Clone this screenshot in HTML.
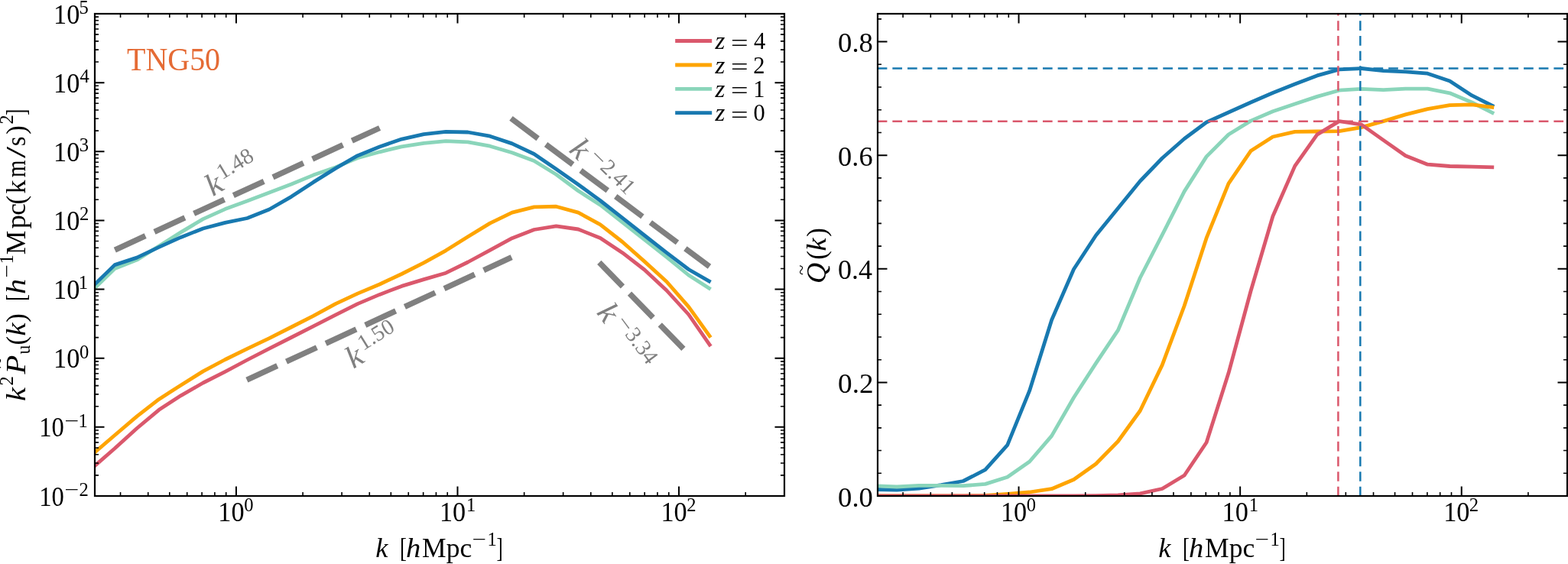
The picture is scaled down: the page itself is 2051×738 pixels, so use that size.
<!DOCTYPE html>
<html><head><meta charset="utf-8"><title>TNG50 power spectrum</title>
<style>html,body{margin:0;padding:0;background:#fff;overflow:hidden}svg{display:block}.t{font-family:"Liberation Serif","DejaVu Serif",serif;fill:#000}.i{font-style:italic}</style></head><body>
<svg width="2051" height="738" viewBox="0 0 2051 738">
<rect width="2051" height="738" fill="#fff"/>
<defs><clipPath id="cl"><rect x="124.0" y="18.0" width="902.0" height="631.0"/></clipPath><clipPath id="cr"><rect x="1148.0" y="18.0" width="902.0" height="631.0"/></clipPath></defs>
<g clip-path="url(#cl)" fill="none" stroke-linejoin="round">
<path d="M150.3,327.1 L496.6,167.5" stroke="#808080" stroke-width="7.4" stroke-dasharray="43.9 13.0"/>
<path d="M668.5,154.9 L928.0,348.8" stroke="#808080" stroke-width="7.4" stroke-dasharray="43.9 13.0"/>
<path d="M322.9,497.1 L669.2,336.7" stroke="#808080" stroke-width="7.4" stroke-dasharray="43.9 13.0"/>
<path d="M783.8,343.4 L894.4,456.8" stroke="#808080" stroke-width="7.4" stroke-dasharray="43.9 13.0"/>
<path d="M121.2,611.9 L150.1,586.8 L179.0,560.5 L207.9,536.3 L236.7,517.6 L265.6,501.0 L294.5,486.3 L323.3,471.0 L352.2,456.1 L381.1,441.5 L409.9,426.8 L438.8,412.2 L467.7,397.6 L496.6,385.4 L525.4,374.4 L554.3,365.6 L583.2,357.2 L612.0,343.0 L640.9,327.4 L669.8,311.7 L698.6,300.5 L727.5,295.8 L756.4,300.0 L785.2,311.4 L814.1,330.7 L843.0,353.0 L871.9,380.0 L900.7,411.5 L929.6,453.2" stroke="#da586c" stroke-width="4.8"/>
<path d="M121.2,594.2 L150.1,569.5 L179.0,544.9 L207.9,522.4 L236.7,503.9 L265.6,485.9 L294.5,470.5 L323.3,456.3 L352.2,442.7 L381.1,428.0 L409.9,413.4 L438.8,397.6 L467.7,384.1 L496.6,372.0 L525.4,358.5 L554.3,343.9 L583.2,327.8 L612.0,309.8 L640.9,292.1 L669.8,278.1 L698.6,270.9 L727.5,270.2 L756.4,278.1 L785.2,293.8 L814.1,316.5 L843.0,342.1 L871.9,368.5 L900.7,401.3 L929.6,441.6" stroke="#fea400" stroke-width="4.8"/>
<path d="M121.2,379.7 L150.1,351.6 L179.0,340.1 L207.9,322.0 L236.7,303.9 L265.6,286.6 L294.5,273.6 L323.3,263.1 L352.2,251.9 L381.1,241.0 L409.9,229.1 L438.8,218.9 L467.7,206.8 L496.6,198.8 L525.4,191.8 L554.3,187.3 L583.2,184.7 L612.0,185.8 L640.9,191.2 L669.8,199.8 L698.6,210.5 L727.5,228.3 L756.4,249.7 L785.2,268.2 L814.1,290.9 L843.0,313.7 L871.9,336.4 L900.7,360.0 L929.6,378.5" stroke="#8ad5ba" stroke-width="4.8"/>
<path d="M121.2,374.7 L150.1,346.6 L179.0,337.1 L207.9,323.4 L236.7,310.4 L265.6,299.0 L294.5,291.4 L323.3,285.5 L352.2,274.0 L381.1,257.3 L409.9,238.4 L438.8,220.4 L467.7,203.7 L496.6,192.0 L525.4,182.1 L554.3,175.6 L583.2,172.3 L612.0,173.0 L640.9,178.2 L669.8,187.9 L698.6,201.5 L727.5,221.2 L756.4,241.5 L785.2,262.5 L814.1,285.2 L843.0,308.0 L871.9,330.7 L900.7,352.5 L929.6,369.1" stroke="#1879b0" stroke-width="4.8"/>
</g>
<g clip-path="url(#cr)" fill="none" stroke-linejoin="round">
<path d="M1144.2,640.4 L1173.1,641.1 L1202.0,639.2 L1231.0,634.7 L1259.9,629.5 L1288.8,614.7 L1317.7,582.3 L1346.7,511.2 L1375.6,418.7 L1404.5,352.2 L1433.5,308.0 L1462.4,272.5 L1491.3,237.0 L1520.2,207.0 L1549.2,181.5 L1578.1,160.0 L1607.0,147.0 L1636.0,134.0 L1664.9,121.5 L1693.8,110.0 L1722.8,98.9 L1751.7,90.9 L1780.6,89.5 L1809.5,92.6 L1838.5,93.8 L1867.4,96.2 L1896.3,106.0 L1925.3,124.9 L1954.2,139.5" stroke="#1879b0" stroke-width="4.8"/>
<path d="M1144.2,635.8 L1173.1,637.0 L1202.0,635.3 L1231.0,635.3 L1259.9,635.7 L1288.8,633.4 L1317.7,624.2 L1346.7,604.0 L1375.6,570.4 L1404.5,520.2 L1433.5,475.4 L1462.4,432.2 L1491.3,363.5 L1520.2,307.3 L1549.2,250.4 L1578.1,204.9 L1607.0,176.0 L1636.0,158.1 L1664.9,145.8 L1693.8,135.9 L1722.8,126.4 L1751.7,118.2 L1780.6,116.3 L1809.5,117.6 L1838.5,116.1 L1867.4,116.1 L1896.3,121.8 L1925.3,134.0 L1954.2,148.7" stroke="#8ad5ba" stroke-width="4.8"/>
<path d="M1144.2,649.0 L1173.1,649.0 L1202.0,649.0 L1231.0,649.0 L1259.9,648.9 L1288.8,648.5 L1317.7,646.3 L1346.7,644.0 L1375.6,639.7 L1404.5,627.5 L1433.5,607.0 L1462.4,577.5 L1491.3,537.5 L1520.2,477.6 L1549.2,400.0 L1578.1,311.4 L1607.0,240.2 L1636.0,197.6 L1664.9,179.0 L1693.8,172.4 L1722.8,172.0 L1751.7,171.7 L1780.6,166.6 L1809.5,158.6 L1838.5,149.9 L1867.4,142.6 L1896.3,137.7 L1925.3,136.8 L1954.2,140.7" stroke="#fea400" stroke-width="4.8"/>
<path d="M1144.2,649.0 L1173.1,649.0 L1202.0,649.0 L1231.0,649.0 L1259.9,649.0 L1288.8,649.0 L1317.7,649.0 L1346.7,649.0 L1375.6,649.0 L1404.5,648.8 L1433.5,648.6 L1462.4,647.9 L1491.3,645.8 L1520.2,639.5 L1549.2,622.0 L1578.1,579.0 L1607.0,488.1 L1636.0,381.0 L1664.9,283.0 L1693.8,217.1 L1722.8,176.1 L1751.7,158.6 L1780.6,162.9 L1809.5,183.4 L1838.5,203.7 L1867.4,215.2 L1896.3,217.5 L1925.3,218.2 L1954.2,218.9" stroke="#da586c" stroke-width="4.8"/>
<path d="M1147.7,158.7 H2050.0" stroke="#da586c" stroke-width="2.5" stroke-dasharray="12.7 6.96"/>
<path d="M1147.7,89.6 H2050.0" stroke="#1879b0" stroke-width="2.5" stroke-dasharray="12.7 6.96"/>
<path d="M1750.4,649.5 V18.0" stroke="#da586c" stroke-width="2.5" stroke-dasharray="12.7 6.96"/>
<path d="M1779.3,649.5 V18.0" stroke="#1879b0" stroke-width="2.5" stroke-dasharray="12.7 6.96"/>
</g>
<g stroke="#000" fill="none">
<path d="M157.55,649.00 V644.00 M157.55,18.00 V23.00" stroke-width="1.6"/><path d="M193.73,649.00 V644.00 M193.73,18.00 V23.00" stroke-width="1.6"/><path d="M221.79,649.00 V644.00 M221.79,18.00 V23.00" stroke-width="1.6"/><path d="M244.71,649.00 V644.00 M244.71,18.00 V23.00" stroke-width="1.6"/><path d="M264.10,649.00 V644.00 M264.10,18.00 V23.00" stroke-width="1.6"/><path d="M280.89,649.00 V644.00 M280.89,18.00 V23.00" stroke-width="1.6"/><path d="M295.70,649.00 V644.00 M295.70,18.00 V23.00" stroke-width="1.6"/><path d="M308.95,649.00 V636.50 M308.95,18.00 V30.50" stroke-width="2.0"/><path d="M396.11,649.00 V644.00 M396.11,18.00 V23.00" stroke-width="1.6"/><path d="M447.10,649.00 V644.00 M447.10,18.00 V23.00" stroke-width="1.6"/><path d="M483.28,649.00 V644.00 M483.28,18.00 V23.00" stroke-width="1.6"/><path d="M511.34,649.00 V644.00 M511.34,18.00 V23.00" stroke-width="1.6"/><path d="M534.26,649.00 V644.00 M534.26,18.00 V23.00" stroke-width="1.6"/><path d="M553.65,649.00 V644.00 M553.65,18.00 V23.00" stroke-width="1.6"/><path d="M570.44,649.00 V644.00 M570.44,18.00 V23.00" stroke-width="1.6"/><path d="M585.25,649.00 V644.00 M585.25,18.00 V23.00" stroke-width="1.6"/><path d="M598.50,649.00 V636.50 M598.50,18.00 V30.50" stroke-width="2.0"/><path d="M685.66,649.00 V644.00 M685.66,18.00 V23.00" stroke-width="1.6"/><path d="M736.65,649.00 V644.00 M736.65,18.00 V23.00" stroke-width="1.6"/><path d="M772.83,649.00 V644.00 M772.83,18.00 V23.00" stroke-width="1.6"/><path d="M800.89,649.00 V644.00 M800.89,18.00 V23.00" stroke-width="1.6"/><path d="M823.81,649.00 V644.00 M823.81,18.00 V23.00" stroke-width="1.6"/><path d="M843.20,649.00 V644.00 M843.20,18.00 V23.00" stroke-width="1.6"/><path d="M859.99,649.00 V644.00 M859.99,18.00 V23.00" stroke-width="1.6"/><path d="M874.80,649.00 V644.00 M874.80,18.00 V23.00" stroke-width="1.6"/><path d="M888.05,649.00 V636.50 M888.05,18.00 V30.50" stroke-width="2.0"/><path d="M975.21,649.00 V644.00 M975.21,18.00 V23.00" stroke-width="1.6"/>
<path d="M1181.12,649.00 V644.00 M1181.12,18.00 V23.00" stroke-width="1.6"/><path d="M1217.31,649.00 V644.00 M1217.31,18.00 V23.00" stroke-width="1.6"/><path d="M1245.37,649.00 V644.00 M1245.37,18.00 V23.00" stroke-width="1.6"/><path d="M1268.30,649.00 V644.00 M1268.30,18.00 V23.00" stroke-width="1.6"/><path d="M1287.69,649.00 V644.00 M1287.69,18.00 V23.00" stroke-width="1.6"/><path d="M1304.48,649.00 V644.00 M1304.48,18.00 V23.00" stroke-width="1.6"/><path d="M1319.30,649.00 V644.00 M1319.30,18.00 V23.00" stroke-width="1.6"/><path d="M1332.55,649.00 V636.50 M1332.55,18.00 V30.50" stroke-width="2.0"/><path d="M1419.73,649.00 V644.00 M1419.73,18.00 V23.00" stroke-width="1.6"/><path d="M1470.72,649.00 V644.00 M1470.72,18.00 V23.00" stroke-width="1.6"/><path d="M1506.91,649.00 V644.00 M1506.91,18.00 V23.00" stroke-width="1.6"/><path d="M1534.97,649.00 V644.00 M1534.97,18.00 V23.00" stroke-width="1.6"/><path d="M1557.90,649.00 V644.00 M1557.90,18.00 V23.00" stroke-width="1.6"/><path d="M1577.29,649.00 V644.00 M1577.29,18.00 V23.00" stroke-width="1.6"/><path d="M1594.08,649.00 V644.00 M1594.08,18.00 V23.00" stroke-width="1.6"/><path d="M1608.90,649.00 V644.00 M1608.90,18.00 V23.00" stroke-width="1.6"/><path d="M1622.15,649.00 V636.50 M1622.15,18.00 V30.50" stroke-width="2.0"/><path d="M1709.33,649.00 V644.00 M1709.33,18.00 V23.00" stroke-width="1.6"/><path d="M1760.32,649.00 V644.00 M1760.32,18.00 V23.00" stroke-width="1.6"/><path d="M1796.51,649.00 V644.00 M1796.51,18.00 V23.00" stroke-width="1.6"/><path d="M1824.57,649.00 V644.00 M1824.57,18.00 V23.00" stroke-width="1.6"/><path d="M1847.50,649.00 V644.00 M1847.50,18.00 V23.00" stroke-width="1.6"/><path d="M1866.89,649.00 V644.00 M1866.89,18.00 V23.00" stroke-width="1.6"/><path d="M1883.68,649.00 V644.00 M1883.68,18.00 V23.00" stroke-width="1.6"/><path d="M1898.50,649.00 V644.00 M1898.50,18.00 V23.00" stroke-width="1.6"/><path d="M1911.75,649.00 V636.50 M1911.75,18.00 V30.50" stroke-width="2.0"/><path d="M1998.93,649.00 V644.00 M1998.93,18.00 V23.00" stroke-width="1.6"/>
<path d="M124.00,649.00 H136.50 M1026.00,649.00 H1013.50" stroke-width="2.0"/>
<path d="M124.00,621.86 H129.00 M1026.00,621.86 H1021.00" stroke-width="1.6"/>
<path d="M124.00,605.99 H129.00 M1026.00,605.99 H1021.00" stroke-width="1.6"/>
<path d="M124.00,594.73 H129.00 M1026.00,594.73 H1021.00" stroke-width="1.6"/>
<path d="M124.00,585.99 H129.00 M1026.00,585.99 H1021.00" stroke-width="1.6"/>
<path d="M124.00,578.86 H129.00 M1026.00,578.86 H1021.00" stroke-width="1.6"/>
<path d="M124.00,572.82 H129.00 M1026.00,572.82 H1021.00" stroke-width="1.6"/>
<path d="M124.00,567.59 H129.00 M1026.00,567.59 H1021.00" stroke-width="1.6"/>
<path d="M124.00,562.98 H129.00 M1026.00,562.98 H1021.00" stroke-width="1.6"/>
<path d="M124.00,558.86 H136.50 M1026.00,558.86 H1013.50" stroke-width="2.0"/>
<path d="M124.00,531.72 H129.00 M1026.00,531.72 H1021.00" stroke-width="1.6"/>
<path d="M124.00,515.85 H129.00 M1026.00,515.85 H1021.00" stroke-width="1.6"/>
<path d="M124.00,504.59 H129.00 M1026.00,504.59 H1021.00" stroke-width="1.6"/>
<path d="M124.00,495.85 H129.00 M1026.00,495.85 H1021.00" stroke-width="1.6"/>
<path d="M124.00,488.71 H129.00 M1026.00,488.71 H1021.00" stroke-width="1.6"/>
<path d="M124.00,482.68 H129.00 M1026.00,482.68 H1021.00" stroke-width="1.6"/>
<path d="M124.00,477.45 H129.00 M1026.00,477.45 H1021.00" stroke-width="1.6"/>
<path d="M124.00,472.84 H129.00 M1026.00,472.84 H1021.00" stroke-width="1.6"/>
<path d="M124.00,468.71 H136.50 M1026.00,468.71 H1013.50" stroke-width="2.0"/>
<path d="M124.00,441.58 H129.00 M1026.00,441.58 H1021.00" stroke-width="1.6"/>
<path d="M124.00,425.71 H129.00 M1026.00,425.71 H1021.00" stroke-width="1.6"/>
<path d="M124.00,414.44 H129.00 M1026.00,414.44 H1021.00" stroke-width="1.6"/>
<path d="M124.00,405.71 H129.00 M1026.00,405.71 H1021.00" stroke-width="1.6"/>
<path d="M124.00,398.57 H129.00 M1026.00,398.57 H1021.00" stroke-width="1.6"/>
<path d="M124.00,392.53 H129.00 M1026.00,392.53 H1021.00" stroke-width="1.6"/>
<path d="M124.00,387.31 H129.00 M1026.00,387.31 H1021.00" stroke-width="1.6"/>
<path d="M124.00,382.70 H129.00 M1026.00,382.70 H1021.00" stroke-width="1.6"/>
<path d="M124.00,378.57 H136.50 M1026.00,378.57 H1013.50" stroke-width="2.0"/>
<path d="M124.00,351.44 H129.00 M1026.00,351.44 H1021.00" stroke-width="1.6"/>
<path d="M124.00,335.56 H129.00 M1026.00,335.56 H1021.00" stroke-width="1.6"/>
<path d="M124.00,324.30 H129.00 M1026.00,324.30 H1021.00" stroke-width="1.6"/>
<path d="M124.00,315.56 H129.00 M1026.00,315.56 H1021.00" stroke-width="1.6"/>
<path d="M124.00,308.43 H129.00 M1026.00,308.43 H1021.00" stroke-width="1.6"/>
<path d="M124.00,302.39 H129.00 M1026.00,302.39 H1021.00" stroke-width="1.6"/>
<path d="M124.00,297.16 H129.00 M1026.00,297.16 H1021.00" stroke-width="1.6"/>
<path d="M124.00,292.55 H129.00 M1026.00,292.55 H1021.00" stroke-width="1.6"/>
<path d="M124.00,288.43 H136.50 M1026.00,288.43 H1013.50" stroke-width="2.0"/>
<path d="M124.00,261.29 H129.00 M1026.00,261.29 H1021.00" stroke-width="1.6"/>
<path d="M124.00,245.42 H129.00 M1026.00,245.42 H1021.00" stroke-width="1.6"/>
<path d="M124.00,234.16 H129.00 M1026.00,234.16 H1021.00" stroke-width="1.6"/>
<path d="M124.00,225.42 H129.00 M1026.00,225.42 H1021.00" stroke-width="1.6"/>
<path d="M124.00,218.28 H129.00 M1026.00,218.28 H1021.00" stroke-width="1.6"/>
<path d="M124.00,212.25 H129.00 M1026.00,212.25 H1021.00" stroke-width="1.6"/>
<path d="M124.00,207.02 H129.00 M1026.00,207.02 H1021.00" stroke-width="1.6"/>
<path d="M124.00,202.41 H129.00 M1026.00,202.41 H1021.00" stroke-width="1.6"/>
<path d="M124.00,198.29 H136.50 M1026.00,198.29 H1013.50" stroke-width="2.0"/>
<path d="M124.00,171.15 H129.00 M1026.00,171.15 H1021.00" stroke-width="1.6"/>
<path d="M124.00,155.28 H129.00 M1026.00,155.28 H1021.00" stroke-width="1.6"/>
<path d="M124.00,144.01 H129.00 M1026.00,144.01 H1021.00" stroke-width="1.6"/>
<path d="M124.00,135.28 H129.00 M1026.00,135.28 H1021.00" stroke-width="1.6"/>
<path d="M124.00,128.14 H129.00 M1026.00,128.14 H1021.00" stroke-width="1.6"/>
<path d="M124.00,122.11 H129.00 M1026.00,122.11 H1021.00" stroke-width="1.6"/>
<path d="M124.00,116.88 H129.00 M1026.00,116.88 H1021.00" stroke-width="1.6"/>
<path d="M124.00,112.27 H129.00 M1026.00,112.27 H1021.00" stroke-width="1.6"/>
<path d="M124.00,108.14 H136.50 M1026.00,108.14 H1013.50" stroke-width="2.0"/>
<path d="M124.00,81.01 H129.00 M1026.00,81.01 H1021.00" stroke-width="1.6"/>
<path d="M124.00,65.13 H129.00 M1026.00,65.13 H1021.00" stroke-width="1.6"/>
<path d="M124.00,53.87 H129.00 M1026.00,53.87 H1021.00" stroke-width="1.6"/>
<path d="M124.00,45.14 H129.00 M1026.00,45.14 H1021.00" stroke-width="1.6"/>
<path d="M124.00,38.00 H129.00 M1026.00,38.00 H1021.00" stroke-width="1.6"/>
<path d="M124.00,31.96 H129.00 M1026.00,31.96 H1021.00" stroke-width="1.6"/>
<path d="M124.00,26.74 H129.00 M1026.00,26.74 H1021.00" stroke-width="1.6"/>
<path d="M124.00,22.12 H129.00 M1026.00,22.12 H1021.00" stroke-width="1.6"/>
<path d="M124.00,18.00 H136.50 M1026.00,18.00 H1013.50" stroke-width="2.0"/>
<path d="M1148.00,649.00 H1160.50 M2050.00,649.00 H2037.50" stroke-width="2.0"/>
<path d="M1148.00,619.28 H1153.00 M2050.00,619.28 H2045.00" stroke-width="1.6"/>
<path d="M1148.00,589.56 H1153.00 M2050.00,589.56 H2045.00" stroke-width="1.6"/>
<path d="M1148.00,559.84 H1153.00 M2050.00,559.84 H2045.00" stroke-width="1.6"/>
<path d="M1148.00,530.12 H1153.00 M2050.00,530.12 H2045.00" stroke-width="1.6"/>
<path d="M1148.00,500.40 H1160.50 M2050.00,500.40 H2037.50" stroke-width="2.0"/>
<path d="M1148.00,470.68 H1153.00 M2050.00,470.68 H2045.00" stroke-width="1.6"/>
<path d="M1148.00,440.96 H1153.00 M2050.00,440.96 H2045.00" stroke-width="1.6"/>
<path d="M1148.00,411.24 H1153.00 M2050.00,411.24 H2045.00" stroke-width="1.6"/>
<path d="M1148.00,381.52 H1153.00 M2050.00,381.52 H2045.00" stroke-width="1.6"/>
<path d="M1148.00,351.80 H1160.50 M2050.00,351.80 H2037.50" stroke-width="2.0"/>
<path d="M1148.00,322.08 H1153.00 M2050.00,322.08 H2045.00" stroke-width="1.6"/>
<path d="M1148.00,292.36 H1153.00 M2050.00,292.36 H2045.00" stroke-width="1.6"/>
<path d="M1148.00,262.64 H1153.00 M2050.00,262.64 H2045.00" stroke-width="1.6"/>
<path d="M1148.00,232.92 H1153.00 M2050.00,232.92 H2045.00" stroke-width="1.6"/>
<path d="M1148.00,203.20 H1160.50 M2050.00,203.20 H2037.50" stroke-width="2.0"/>
<path d="M1148.00,173.48 H1153.00 M2050.00,173.48 H2045.00" stroke-width="1.6"/>
<path d="M1148.00,143.76 H1153.00 M2050.00,143.76 H2045.00" stroke-width="1.6"/>
<path d="M1148.00,114.04 H1153.00 M2050.00,114.04 H2045.00" stroke-width="1.6"/>
<path d="M1148.00,84.32 H1153.00 M2050.00,84.32 H2045.00" stroke-width="1.6"/>
<path d="M1148.00,54.60 H1160.50 M2050.00,54.60 H2037.50" stroke-width="2.0"/>
<path d="M1148.00,24.88 H1153.00 M2050.00,24.88 H2045.00" stroke-width="1.6"/>
<rect x="124.0" y="18.0" width="902.0" height="631.0" stroke-width="2.2" stroke-linejoin="miter"/>
<rect x="1148.0" y="18.0" width="902.0" height="631.0" stroke-width="2.2" stroke-linejoin="miter"/>
</g>
<g font-family="Liberation Serif, DejaVu Serif, serif" fill="#000">
<text x="51.13" y="661.60" font-size="34.80" textLength="32.61" lengthAdjust="spacingAndGlyphs">10</text>
<text x="84.43" y="648.80" font-size="24.60" textLength="18.91" lengthAdjust="spacingAndGlyphs">−</text>
<text x="103.52" y="648.80" font-size="24.60">2</text>
<text x="51.13" y="571.46" font-size="34.80" textLength="32.61" lengthAdjust="spacingAndGlyphs">10</text>
<text x="84.43" y="558.66" font-size="24.60" textLength="18.91" lengthAdjust="spacingAndGlyphs">−</text>
<text x="102.44" y="558.66" font-size="24.60">1</text>
<text x="70.09" y="481.31" font-size="34.80" textLength="34.21" lengthAdjust="spacingAndGlyphs">10</text>
<text x="104.06" y="468.51" font-size="24.60">0</text>
<text x="70.09" y="391.17" font-size="34.80" textLength="34.21" lengthAdjust="spacingAndGlyphs">10</text>
<text x="102.84" y="378.37" font-size="24.60">1</text>
<text x="70.09" y="301.03" font-size="34.80" textLength="34.21" lengthAdjust="spacingAndGlyphs">10</text>
<text x="103.92" y="288.23" font-size="24.60">2</text>
<text x="70.09" y="210.89" font-size="34.80" textLength="34.21" lengthAdjust="spacingAndGlyphs">10</text>
<text x="103.82" y="198.09" font-size="24.60">3</text>
<text x="70.09" y="120.74" font-size="34.80" textLength="34.21" lengthAdjust="spacingAndGlyphs">10</text>
<text x="104.52" y="107.94" font-size="24.60">4</text>
<text x="70.09" y="30.60" font-size="34.80" textLength="34.21" lengthAdjust="spacingAndGlyphs">10</text>
<text x="103.57" y="17.80" font-size="24.60">5</text>
<text x="285.34" y="681.70" font-size="34.80" textLength="34.21" lengthAdjust="spacingAndGlyphs">10</text>
<text x="319.21" y="668.50" font-size="24.60">0</text>
<text x="1308.94" y="681.70" font-size="34.80" textLength="34.21" lengthAdjust="spacingAndGlyphs">10</text>
<text x="1342.81" y="668.50" font-size="24.60">0</text>
<text x="574.89" y="681.70" font-size="34.80" textLength="34.21" lengthAdjust="spacingAndGlyphs">10</text>
<text x="610.04" y="668.50" font-size="24.60">1</text>
<text x="1598.54" y="681.70" font-size="34.80" textLength="34.21" lengthAdjust="spacingAndGlyphs">10</text>
<text x="1633.69" y="668.50" font-size="24.60">1</text>
<text x="864.44" y="681.70" font-size="34.80" textLength="34.21" lengthAdjust="spacingAndGlyphs">10</text>
<text x="898.17" y="668.50" font-size="24.60">2</text>
<text x="1888.14" y="681.70" font-size="34.80" textLength="34.21" lengthAdjust="spacingAndGlyphs">10</text>
<text x="1921.87" y="668.50" font-size="24.60">2</text>
<text x="1096.10" y="662.60" font-size="34.80" textLength="45.79" lengthAdjust="spacingAndGlyphs">0.0</text>
<text x="1096.08" y="514.00" font-size="34.80" textLength="46.47" lengthAdjust="spacingAndGlyphs">0.2</text>
<text x="1096.13" y="365.40" font-size="34.80" textLength="44.93" lengthAdjust="spacingAndGlyphs">0.4</text>
<text x="1096.11" y="216.80" font-size="34.80" textLength="45.47" lengthAdjust="spacingAndGlyphs">0.6</text>
<text x="1096.10" y="68.20" font-size="34.80" textLength="45.79" lengthAdjust="spacingAndGlyphs">0.8</text>
<text x="491.35" y="728.70" font-size="34.80" font-style="italic" textLength="16.22" lengthAdjust="spacingAndGlyphs">k</text>
<text x="523.00" y="728.70" font-size="34.80" textLength="8.97" lengthAdjust="spacingAndGlyphs">[</text>
<text x="530.91" y="728.70" font-size="34.80" font-style="italic" textLength="19.30" lengthAdjust="spacingAndGlyphs">h</text>
<text x="552.08" y="728.70" font-size="34.80" textLength="65.12" lengthAdjust="spacingAndGlyphs">Mpc</text>
<text x="617.87" y="713.50" font-size="24.60" textLength="18.42" lengthAdjust="spacingAndGlyphs">−</text>
<text x="637.54" y="713.50" font-size="24.60">1</text>
<text x="649.51" y="728.70" font-size="34.80" textLength="8.23" lengthAdjust="spacingAndGlyphs">]</text>
<text x="1515.35" y="728.70" font-size="34.80" font-style="italic" textLength="16.22" lengthAdjust="spacingAndGlyphs">k</text>
<text x="1547.00" y="728.70" font-size="34.80" textLength="8.97" lengthAdjust="spacingAndGlyphs">[</text>
<text x="1554.91" y="728.70" font-size="34.80" font-style="italic" textLength="19.30" lengthAdjust="spacingAndGlyphs">h</text>
<text x="1576.08" y="728.70" font-size="34.80" textLength="65.12" lengthAdjust="spacingAndGlyphs">Mpc</text>
<text x="1641.87" y="713.50" font-size="24.60" textLength="18.42" lengthAdjust="spacingAndGlyphs">−</text>
<text x="1661.54" y="713.50" font-size="24.60">1</text>
<text x="1673.51" y="728.70" font-size="34.80" textLength="8.23" lengthAdjust="spacingAndGlyphs">]</text>
<g transform="translate(33.4,524.3) rotate(-90)">
<text x="-0.67" y="0.00" font-size="34.80" font-style="italic" textLength="18.08" lengthAdjust="spacingAndGlyphs">k</text>
<text x="19.72" y="-16.10" font-size="24.60">2</text>
<text x="34.72" y="0.00" font-size="34.80" font-style="italic" textLength="24.81" lengthAdjust="spacingAndGlyphs">P</text>
<text x="42.05" y="-26.10" font-size="24.00" textLength="14.52" lengthAdjust="spacingAndGlyphs">~</text>
<text x="60.69" y="5.20" font-size="24.60" textLength="11.82" lengthAdjust="spacingAndGlyphs">u</text>
<text x="72.77" y="0.00" font-size="34.80">(</text>
<text x="84.69" y="0.00" font-size="34.80" font-style="italic" textLength="17.04" lengthAdjust="spacingAndGlyphs">k</text>
<text x="102.48" y="0.00" font-size="34.80">)</text>
<text x="130.20" y="0.00" font-size="34.80" textLength="8.97" lengthAdjust="spacingAndGlyphs">[</text>
<text x="139.35" y="0.00" font-size="34.80" font-style="italic" textLength="20.12" lengthAdjust="spacingAndGlyphs">h</text>
<text x="161.18" y="-16.10" font-size="24.60" textLength="17.21" lengthAdjust="spacingAndGlyphs">−</text>
<text x="178.84" y="-16.10" font-size="24.60">1</text>
<text x="191.08" y="0.00" font-size="34.80" textLength="31.56" lengthAdjust="spacingAndGlyphs">M</text>
<text x="225.11" y="0.00" font-size="34.80" textLength="18.21" lengthAdjust="spacingAndGlyphs">p</text>
<text x="242.66" y="0.00" font-size="34.80" textLength="15.62" lengthAdjust="spacingAndGlyphs">c</text>
<text x="256.77" y="0.00" font-size="34.80">(</text>
<text x="270.82" y="0.00" font-size="34.80" textLength="17.98" lengthAdjust="spacingAndGlyphs">k</text>
<text x="292.19" y="0.00" font-size="34.80" textLength="22.46" lengthAdjust="spacingAndGlyphs">m</text>
<text x="317.30" y="0.00" font-size="34.80" textLength="15.20" lengthAdjust="spacingAndGlyphs">/</text>
<text x="333.16" y="0.00" font-size="34.80" textLength="12.72" lengthAdjust="spacingAndGlyphs">s</text>
<text x="348.58" y="0.00" font-size="34.80">)</text>
<text x="361.92" y="-16.10" font-size="24.60">2</text>
<text x="373.21" y="0.00" font-size="34.80" textLength="8.23" lengthAdjust="spacingAndGlyphs">]</text>
</g>
<g transform="translate(1080.2,368.8) rotate(-90)">
<text x="-2.08" y="0.00" font-size="34.80" font-style="italic" textLength="27.17" lengthAdjust="spacingAndGlyphs">Q</text>
<text x="8.81" y="-24.10" font-size="24.00" textLength="13.40" lengthAdjust="spacingAndGlyphs">~</text>
<text x="28.97" y="0.00" font-size="34.80">(</text>
<text x="40.19" y="0.00" font-size="34.80" font-style="italic" textLength="17.04" lengthAdjust="spacingAndGlyphs">k</text>
<text x="59.18" y="0.00" font-size="34.80">)</text>
</g>
<text x="165.98" y="92.30" font-size="42.40" fill="#e56b35" textLength="122.14" lengthAdjust="spacingAndGlyphs">TNG50</text>
<path d="M883.2,53.5 H931.2" stroke="#da586c" stroke-width="4.8"/>
<text x="935.47" y="64.00" font-size="30.50" font-style="italic" textLength="12.86" lengthAdjust="spacingAndGlyphs">z</text>
<text x="956.00" y="66.50" font-size="30.50" textLength="22.66" lengthAdjust="spacingAndGlyphs">=</text>
<text x="986.10" y="64.00" font-size="30.50">4</text>
<path d="M883.2,85.0 H931.2" stroke="#fea400" stroke-width="4.8"/>
<text x="935.47" y="95.50" font-size="30.50" font-style="italic" textLength="12.86" lengthAdjust="spacingAndGlyphs">z</text>
<text x="956.00" y="98.00" font-size="30.50" textLength="22.66" lengthAdjust="spacingAndGlyphs">=</text>
<text x="985.36" y="95.50" font-size="30.50">2</text>
<path d="M883.2,116.4 H931.2" stroke="#8ad5ba" stroke-width="4.8"/>
<text x="935.47" y="126.90" font-size="30.50" font-style="italic" textLength="12.86" lengthAdjust="spacingAndGlyphs">z</text>
<text x="956.00" y="129.40" font-size="30.50" textLength="22.66" lengthAdjust="spacingAndGlyphs">=</text>
<text x="985.32" y="126.90" font-size="30.50">1</text>
<path d="M883.2,147.6 H931.2" stroke="#1879b0" stroke-width="4.8"/>
<text x="935.47" y="158.10" font-size="30.50" font-style="italic" textLength="12.86" lengthAdjust="spacingAndGlyphs">z</text>
<text x="956.00" y="160.60" font-size="30.50" textLength="22.66" lengthAdjust="spacingAndGlyphs">=</text>
<text x="985.54" y="158.10" font-size="30.50">0</text>
</g>
<g transform="translate(279.60,256.90) rotate(-31.50)" font-family="Liberation Serif, DejaVu Serif, serif" fill="#808080">
<text x="-1.24" y="0.00" font-size="41.00" font-style="italic" textLength="19.11" lengthAdjust="spacingAndGlyphs">k</text>
<text x="20.45" y="-12.50" font-size="29.00">1.48</text>
</g>
<g transform="translate(463.40,482.30) rotate(-31.90)" font-family="Liberation Serif, DejaVu Serif, serif" fill="#808080">
<text x="-1.24" y="0.00" font-size="41.00" font-style="italic" textLength="19.11" lengthAdjust="spacingAndGlyphs">k</text>
<text x="21.95" y="-13.50" font-size="29.00">1.50</text>
</g>
<g transform="translate(743.75,198.45) rotate(45.00)" font-family="Liberation Serif, DejaVu Serif, serif" fill="#808080">
<text x="-1.24" y="0.00" font-size="41.00" font-style="italic" textLength="19.11" lengthAdjust="spacingAndGlyphs">k</text>
<text x="23.29" y="-13.00" font-size="29.00" textLength="19.39" lengthAdjust="spacingAndGlyphs">−</text>
<text x="43.73" y="-13.00" font-size="29.00">2.41</text>
</g>
<g transform="translate(780.30,410.20) rotate(53.50)" font-family="Liberation Serif, DejaVu Serif, serif" fill="#808080">
<text x="-1.24" y="0.00" font-size="41.00" font-style="italic" textLength="19.11" lengthAdjust="spacingAndGlyphs">k</text>
<text x="23.29" y="-13.00" font-size="29.00" textLength="19.39" lengthAdjust="spacingAndGlyphs">−</text>
<text x="43.61" y="-13.00" font-size="29.00">3.34</text>
</g>
</svg></body></html>
